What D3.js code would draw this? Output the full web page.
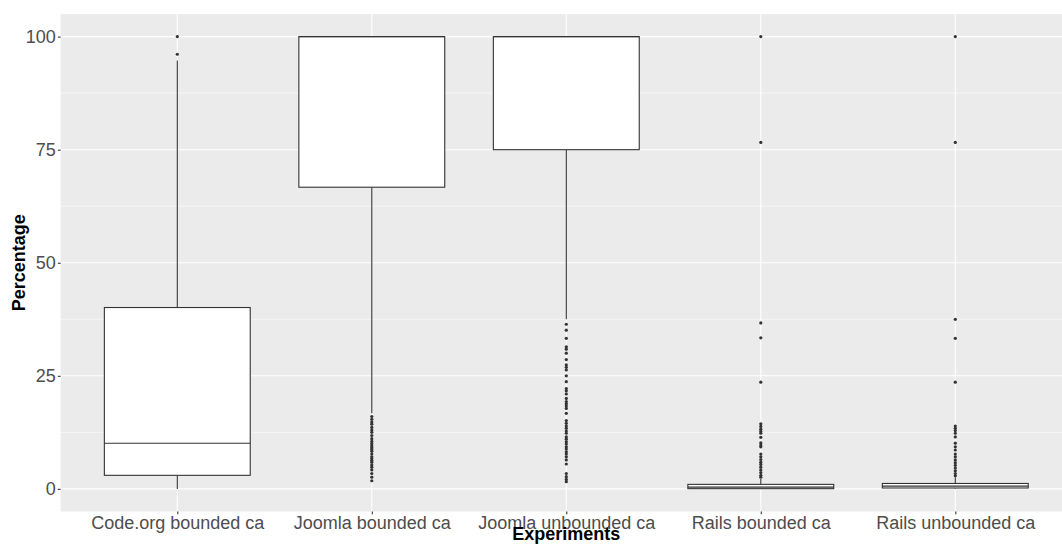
<!DOCTYPE html>
<html>
<head>
<meta charset="utf-8">
<script src="https://cdn.jsdelivr.net/npm/d3@7"></script>
<style>
  body { margin: 0; background: #fff; }
  text { font-family: "Liberation Sans", Arial, sans-serif; }
</style>
</head>
<body>
<svg id="chart" width="1062" height="544"></svg>
<script>
// Catégories et statistiques des boîtes
const categories = ["Code.org bounded ca", "Joomla bounded ca", "Joomla unbounded ca", "Rails bounded ca", "Rails unbounded ca"];
const whiskerLow = [0, 16.7, 37.5, 0, 0.1];
const q1 = [3.0, 66.7, 75, 0.05, 0.2];
const median = [10.1, 100, 100, 0.4, 0.6];
const q3 = [40.1, 100, 100, 1.0, 1.2];
const whiskerHigh = [94.7, 100, 100, 2.2, 2.6];

// Valeurs aberrantes par catégorie
const outCode = [100, 96.1];
const outJoomlaB = [16.0, 15.4, 14.8, 14.3, 13.6, 13.0, 12.5, 11.8, 11.1, 10.5, 10.0, 9.5, 9.1, 8.7,
  8.3, 7.7, 7.1, 6.7, 6.3, 5.9, 5.3, 4.8, 4.2, 3.4, 2.6, 1.8];
const outJoomlaU = [36.4, 35.1, 33.3, 31.4, 30.9, 30.0, 28.6, 27.4, 26.9, 26.3, 25.0, 23.7, 22.2, 21.7,
  21.0, 20.0, 19.3, 18.8, 18.3, 17.8, 16.7, 15.1, 14.5, 13.9, 13.4, 12.8, 12.3, 11.5, 11.0, 10.4,
  9.9, 9.3, 8.8, 8.2, 7.7, 7.1, 6.4, 5.5, 3.4, 2.7, 2.1, 1.6];
const outRailsB = [100, 76.6, 36.7, 33.4, 23.6, 14.4, 13.8, 13.2, 12.7, 12.3, 11.4, 10.2, 9.7, 9.3,
  7.7, 7.1, 6.5, 5.9, 5.4, 4.8, 4.2, 3.6, 3.0, 2.6];
const outRailsU = [100, 76.6, 37.5, 33.3, 23.6, 13.9, 13.4, 12.9, 12.3, 11.5, 10.1, 9.3, 8.6, 7.7,
  7.1, 6.4, 5.8, 5.2, 4.6, 4.0, 3.4, 2.9];
const outliers = [outCode, outJoomlaB, outJoomlaU, outRailsB, outRailsU];

const yTicks = [0, 25, 50, 75, 100];
const yMinor = [12.5, 37.5, 62.5, 87.5];

const svg = d3.select("#chart");
const panel = { left: 60.6, right: 1072, top: 14, bottom: 511.5 };

const x = d3.scalePoint()
  .domain(categories)
  .range([panel.left, panel.right])
  .padding(0.6);

const y = d3.scaleLinear()
  .domain([-5, 105])
  .range([panel.bottom, panel.top]);

const boxW = x.step() * 0.75;

// Fond du panneau
svg.append("rect")
  .attr("x", panel.left).attr("y", panel.top)
  .attr("width", panel.right - panel.left)
  .attr("height", panel.bottom - panel.top)
  .attr("fill", "#EBEBEB");

// Grille secondaire et principale
svg.append("g").selectAll("line").data(yMinor).join("line")
  .attr("x1", panel.left).attr("x2", panel.right)
  .attr("y1", d => y(d)).attr("y2", d => y(d))
  .attr("stroke", "#fff").attr("stroke-width", 0.55);

svg.append("g").selectAll("line").data(yTicks).join("line")
  .attr("x1", panel.left).attr("x2", panel.right)
  .attr("y1", d => y(d)).attr("y2", d => y(d))
  .attr("stroke", "#fff").attr("stroke-width", 1.1);

svg.append("g").selectAll("line").data(categories).join("line")
  .attr("x1", d => x(d)).attr("x2", d => x(d))
  .attr("y1", panel.top).attr("y2", panel.bottom)
  .attr("stroke", "#fff").attr("stroke-width", 1.1);

// Boîtes à moustaches
const boxes = svg.append("g").selectAll("g").data(categories).join("g");

boxes.append("line")
  .attr("x1", d => x(d)).attr("x2", d => x(d))
  .attr("y1", (d, i) => y(q3[i])).attr("y2", (d, i) => y(whiskerHigh[i]))
  .attr("stroke", "#333").attr("stroke-width", 1.1);

boxes.append("line")
  .attr("x1", d => x(d)).attr("x2", d => x(d))
  .attr("y1", (d, i) => y(q1[i])).attr("y2", (d, i) => y(whiskerLow[i]))
  .attr("stroke", "#333").attr("stroke-width", 1.1);

boxes.append("rect")
  .attr("x", d => x(d) - boxW / 2)
  .attr("width", boxW)
  .attr("y", (d, i) => y(q3[i]))
  .attr("height", (d, i) => y(q1[i]) - y(q3[i]))
  .attr("fill", "#fff")
  .attr("stroke", "#333").attr("stroke-width", 1.1);

boxes.append("line")
  .attr("x1", d => x(d) - boxW / 2).attr("x2", d => x(d) + boxW / 2)
  .attr("y1", (d, i) => y(median[i])).attr("y2", (d, i) => y(median[i]))
  .attr("stroke", "#333").attr("stroke-width", 1.1);

// Points aberrants
boxes.each(function (d, i) {
  d3.select(this).selectAll("circle").data(outliers[i]).join("circle")
    .attr("cx", x(d))
    .attr("cy", v => y(v))
    .attr("r", 1.6)
    .attr("fill", "#333");
});

// Axe vertical
const yAxis = svg.append("g")
  .attr("transform", `translate(${panel.left},0)`)
  .call(d3.axisLeft(y).tickValues(yTicks).tickSize(2.7).tickPadding(2.2).tickFormat(d3.format("d")));
yAxis.select(".domain").remove();
yAxis.selectAll("line").attr("stroke", "#333").attr("stroke-width", 1.1);
yAxis.selectAll("text").attr("fill", "#4D4D4D").style("font-size", "18px")
  .style("font-family", "'Liberation Sans', Arial, sans-serif");

// Axe horizontal
const xAxis = svg.append("g")
  .attr("transform", `translate(0,${panel.bottom})`)
  .call(d3.axisBottom(x).tickSize(2.7).tickPadding(2.2));
xAxis.select(".domain").remove();
xAxis.selectAll("line").attr("stroke", "#333").attr("stroke-width", 1.1);
xAxis.selectAll("text").attr("fill", "#4D4D4D").style("font-size", "18px")
  .style("font-family", "'Liberation Sans', Arial, sans-serif");

// Titres des axes
svg.append("text")
  .attr("x", (panel.left + panel.right) / 2)
  .attr("y", 540)
  .attr("text-anchor", "middle")
  .style("font-size", "18px").style("font-weight", "bold")
  .text("Experiments");

svg.append("text")
  .attr("transform", `translate(25,${(panel.top + panel.bottom) / 2}) rotate(-90)`)
  .attr("text-anchor", "middle")
  .style("font-size", "18px").style("font-weight", "bold")
  .text("Percentage");
</script>
</body>
</html>
